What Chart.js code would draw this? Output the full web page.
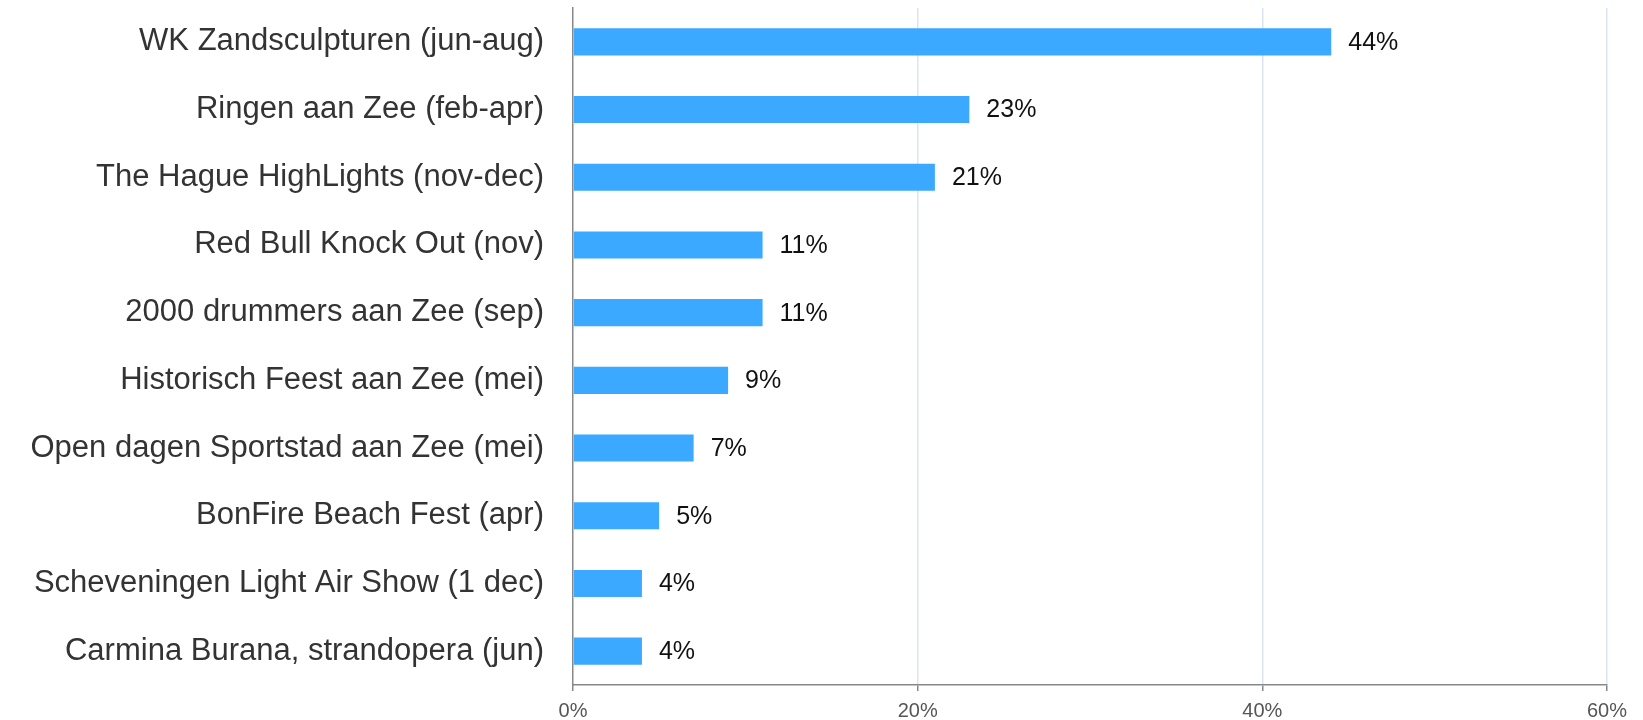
<!DOCTYPE html>
<html lang="nl">
<head>
<meta charset="UTF-8">
<title>Evenementen</title>
<script src="https://cdn.jsdelivr.net/npm/chart.js"></script>
<style>
    html, body { margin: 0; padding: 0; background: #fff; }
    #wrap { width: 1643px; height: 720px; position: relative; }
</style>
</head>
<body>
<div id="wrap"><canvas id="chart"></canvas></div>
<script>
    const events = [
        'WK Zandsculpturen (jun-aug)',
        'Ringen aan Zee (feb-apr)',
        'The Hague HighLights (nov-dec)',
        'Red Bull Knock Out (nov)',
        '2000 drummers aan Zee (sep)',
        'Historisch Feest aan Zee (mei)',
        'Open dagen Sportstad aan Zee (mei)',
        'BonFire Beach Fest (apr)',
        'Scheveningen Light Air Show (1 dec)',
        'Carmina Burana, strandopera (jun)'
    ];
    const percentages = [44, 23, 21, 11, 11, 9, 7, 5, 4, 4];
    const xTicks = [0, 20, 40, 60];

    const FONT = "'Liberation Sans', Arial, sans-serif";

    // draws the "44%" style labels at the end of each bar
    const valueLabels = {
        id: 'valueLabels',
        afterDatasetsDraw(chart) {
            const ctx = chart.ctx;
            const meta = chart.getDatasetMeta(0);
            ctx.save();
            ctx.font = '25px ' + FONT;
            ctx.fillStyle = '#111';
            ctx.textAlign = 'left';
            ctx.textBaseline = 'middle';
            meta.data.forEach((bar, i) => {
                ctx.fillText(percentages[i] + '%', bar.x + 17, bar.y + 1);
            });
            ctx.restore();
        }
    };

    new Chart(document.getElementById('chart'), {
        type: 'bar',
        data: {
            labels: events,
            datasets: [{
                data: percentages,
                backgroundColor: '#3ba9ff',
                borderWidth: 0,
                barPercentage: 0.4,
                categoryPercentage: 1
            }]
        },
        options: {
            indexAxis: 'y',
            responsive: true,
            maintainAspectRatio: false,
            animation: false,
            layout: { padding: { top: 8, right: 36, left: 0, bottom: 0 } },
            plugins: {
                legend: { display: false },
                tooltip: { enabled: false }
            },
            scales: {
                x: {
                    min: 0,
                    max: 60,
                    afterBuildTicks: scale => { scale.ticks = xTicks.map(v => ({ value: v })); },
                    afterFit: scale => { scale.height = 35; },
                    ticks: {
                        callback: v => v + '%',
                        color: '#555',
                        font: { family: FONT, size: 20 },
                        padding: 8,
                        maxRotation: 0
                    },
                    grid: {
                        color: c => c.index === 0 ? 'rgba(0,0,0,0)' : '#dbe5f2',
                        tickColor: '#888',
                        tickLength: 6,
                        lineWidth: 1.5
                    },
                    border: { color: '#888', width: 1.5 }
                },
                y: {
                    afterFit: scale => { scale.width = 573; },
                    ticks: {
                        color: '#333',
                        font: { family: FONT, size: 31, lineHeight: 0.5 },
                        padding: 0
                    },
                    // invisible tick marks only keep the gap between labels and axis
                    grid: {
                        drawOnChartArea: false,
                        drawTicks: true,
                        tickLength: 29,
                        tickColor: 'rgba(0,0,0,0)'
                    },
                    border: { color: '#888', width: 1.5 }
                }
            }
        },
        plugins: [valueLabels]
    });
</script>
</body>
</html>
